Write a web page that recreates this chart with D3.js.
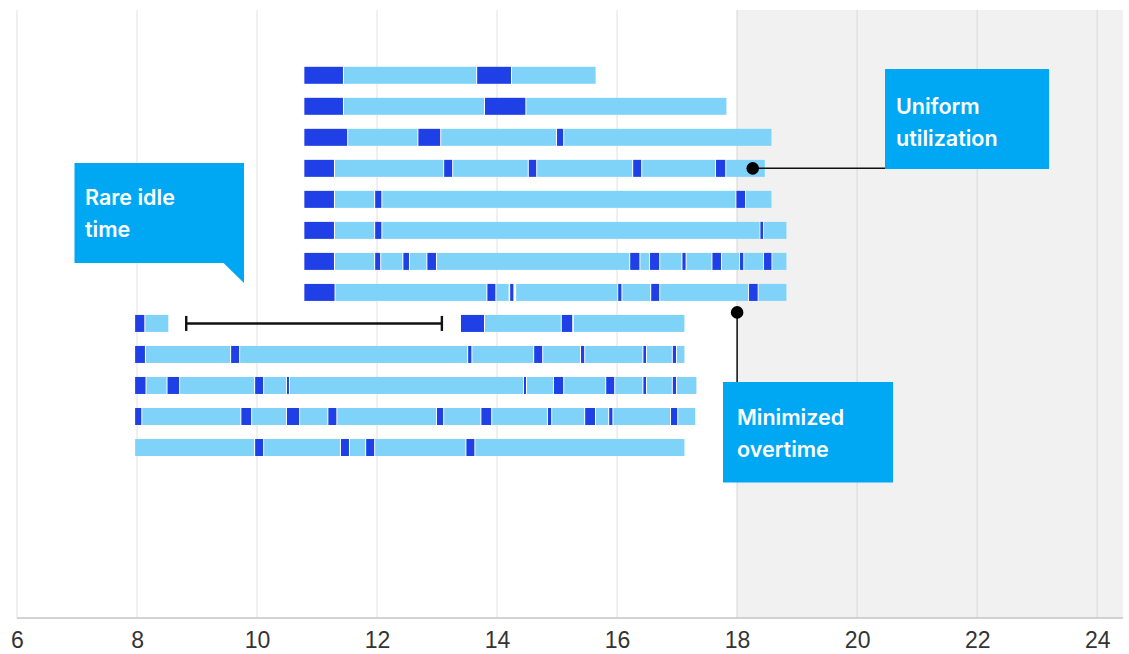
<!DOCTYPE html>
<html>
<head>
<meta charset="utf-8">
<script src="https://cdn.jsdelivr.net/npm/d3@7"></script>
<style>
  html, body { margin: 0; padding: 0; background: #ffffff; }
  svg { display: block; }
</style>
</head>
<body>
<div id="chart"></div>
<script>
// ---------------- DATA ----------------
// Hours of the day on the x axis
const tickValues = [6, 8, 10, 12, 14, 16, 18, 20, 22, 24];
const xDomain = [6, 24.43];
const overtimeStart = 18;

// Each row: list of [kind, start, end]; kind "t" = dark segment, "w" = light segment
const row1  = [["t",10.78,11.44],["w",11.44,13.66],["t",13.66,14.24],["w",14.24,15.65]];
const row2  = [["t",10.78,11.44],["w",11.44,13.79],["t",13.79,14.48],["w",14.48,17.83]];
const row3  = [["t",10.78,11.51],["w",11.51,12.68],["t",12.68,13.06],["w",13.06,14.99],["t",14.99,15.11],["w",15.11,18.58]];
const row4  = [["t",10.78,11.29],["w",11.29,13.11],["t",13.11,13.26],["w",13.26,14.52],["t",14.52,14.66],["w",14.66,16.26],["t",16.26,16.41],["w",16.41,17.64],["t",17.64,17.81],["w",17.81,18.47]];
const row5  = [["t",10.78,11.29],["w",11.29,11.96],["t",11.96,12.08],["w",12.08,17.98],["t",17.98,18.14],["w",18.14,18.58]];
const row6  = [["t",10.78,11.29],["w",11.29,11.96],["t",11.96,12.08],["w",12.08,18.38],["t",18.38,18.44],["w",18.44,18.83]];
const row7  = [["t",10.78,11.29],["w",11.29,11.96],["t",11.96,12.06],["w",12.06,12.43],["t",12.43,12.54],["w",12.54,12.83],["t",12.83,12.99],["w",12.99,16.21],["t",16.21,16.38],["w",16.38,16.54],["t",16.54,16.71],["w",16.71,17.08],["t",17.08,17.15],["w",17.15,17.58],["t",17.58,17.74],["w",17.74,18.04],["t",18.04,18.11],["w",18.11,18.44],["t",18.44,18.58],["w",18.58,18.83]];
const row8  = [["t",10.78,11.30],["w",11.30,13.83],["t",13.83,13.98],["w",13.98,14.20],["t",14.21,14.28],["w",14.31,16.01],["t",16.01,16.08],["w",16.08,16.56],["t",16.56,16.71],["w",16.71,18.19],["t",18.19,18.35],["w",18.35,18.83]];
const row9  = [["t",7.96,8.13],["w",8.13,8.53],["t",13.39,13.79],["w",13.79,15.07],["t",15.07,15.26],["w",15.27,17.13]];
const row10 = [["t",7.96,8.14],["w",8.14,9.56],["t",9.56,9.71],["w",9.71,13.51],["t",13.51,13.58],["w",13.58,14.61],["t",14.61,14.76],["w",14.76,15.39],["t",15.39,15.46],["w",15.46,16.43],["t",16.43,16.49],["w",16.49,16.92],["t",16.92,16.99],["w",16.99,17.13]];
const row11 = [["t",7.96,8.15],["w",8.15,8.50],["t",8.50,8.71],["w",8.71,9.96],["t",9.96,10.11],["w",10.11,10.49],["t",10.49,10.54],["w",10.54,14.44],["t",14.44,14.49],["w",14.49,14.94],["t",14.94,15.11],["w",15.11,15.81],["t",15.81,15.96],["w",15.96,16.43],["t",16.43,16.49],["w",16.49,16.92],["t",16.92,16.99],["w",16.99,17.33]];
const row12 = [["t",7.96,8.08],["w",8.08,9.73],["t",9.73,9.91],["w",9.91,10.49],["t",10.49,10.71],["w",10.71,11.18],["t",11.18,11.33],["w",11.33,12.99],["t",12.99,13.11],["w",13.11,13.73],["t",13.73,13.91],["w",13.91,14.84],["t",14.84,14.91],["w",14.91,15.46],["t",15.46,15.64],["w",15.64,15.86],["t",15.86,15.93],["w",15.93,16.89],["t",16.89,17.01],["w",17.01,17.31]];
const row13 = [["w",7.96,9.96],["t",9.96,10.11],["w",10.11,11.39],["t",11.39,11.54],["w",11.54,11.81],["t",11.81,11.96],["w",11.96,13.48],["t",13.48,13.63],["w",13.63,17.13]];
const rows = [row1, row2, row3, row4, row5, row6, row7, row8, row9, row10, row11, row12, row13];

// idle time interval (row 9)
const idleRow = 8;
const idleSpan = [8.82, 13.08];

// annotations
const annotationTexts = [["Rare idle", "time"], ["Uniform", "utilization"], ["Minimized", "overtime"]];
// anchor points: [hour, row index]
const uniformAnchor = [18.26, 3];
const overtimeAnchor = [18.0, 7];

// ---------------- CHART ----------------
const W = 1129, H = 654;
const COL_DARK = "#1f40e6", COL_LIGHT = "#80d3f8", COL_BOX = "#00a8f3";
const axisY = 618, topY = 10;
const barH = 17;

const svg = d3.select("#chart").append("svg").attr("width", W).attr("height", H);

const x = d3.scaleLinear().domain(xDomain).range([17, 1123]);
const y = d3.scalePoint().domain(d3.range(rows.length)).range([75.3, 447.5]);

// overtime shading
svg.append("rect")
  .attr("x", x(overtimeStart)).attr("y", topY)
  .attr("width", x(xDomain[1]) - x(overtimeStart)).attr("height", axisY - topY)
  .attr("fill", "#f1f1f1");

// grid lines
svg.append("g").selectAll("line").data(tickValues).join("line")
  .attr("x1", d => x(d)).attr("x2", d => x(d))
  .attr("y1", topY).attr("y2", axisY)
  .attr("stroke", d => d >= overtimeStart ? "#e2e2e2" : "#ececec")
  .attr("stroke-width", 1.6);

// axis
const axis = d3.axisBottom(x).tickValues(tickValues).tickSize(0).tickPadding(14).tickFormat(d3.format("d"));
const ag = svg.append("g").attr("transform", `translate(0,${axisY})`).call(axis);
ag.select(".domain").remove();
ag.selectAll("text")
  .attr("font-family", "'Liberation Sans', Arial, sans-serif")
  .attr("font-size", 23)
  .attr("fill", "#333333");
svg.append("line")
  .attr("x1", x(xDomain[0])).attr("x2", x(xDomain[1]))
  .attr("y1", axisY).attr("y2", axisY)
  .attr("stroke", "#c4c4c4").attr("stroke-width", 1.5);

// bars
const barG = svg.append("g");
rows.forEach((segs, i) => {
  barG.append("g").selectAll("rect").data(segs).join("rect")
    .attr("x", d => x(d[1]) + 0.5)
    .attr("width", d => Math.max(0.5, x(d[2]) - x(d[1]) - 1))
    .attr("y", y(i) - barH / 2)
    .attr("height", barH)
    .attr("fill", d => d[0] === "t" ? COL_DARK : COL_LIGHT);
});

// idle interval
const iy = y(idleRow);
const ig = svg.append("g").attr("stroke", "#111").attr("stroke-width", 2.4);
ig.append("line").attr("x1", x(idleSpan[0])).attr("x2", x(idleSpan[1])).attr("y1", iy).attr("y2", iy);
idleSpan.forEach(v => {
  ig.append("line").attr("x1", x(v)).attr("x2", x(v)).attr("y1", iy - 7.5).attr("y2", iy + 7.5);
});

// annotation boxes
function box(x0, y0, w, h, lines, tx, ty1) {
  const g = svg.append("g");
  g.append("rect").attr("x", x0).attr("y", y0).attr("width", w).attr("height", h).attr("fill", COL_BOX);
  const t = g.append("text")
    .attr("font-family", "Inter, 'Open Sans', sans-serif")
    .attr("font-weight", 600)
    .attr("font-size", 21.5)
    .attr("fill", "#ffffff");
  lines.forEach((l, k) => {
    t.append("tspan").attr("x", tx).attr("y", ty1 + k * 32).text(l);
  });
  return g;
}

// Rare idle time (speech bubble)
const rg = box(74.5, 163, 169.5, 100, annotationTexts[0], 85, 205);
rg.append("path").attr("d", "M223,262.5 L244,283 L244,262.5 Z").attr("fill", COL_BOX);

// Uniform utilization
const ux = x(uniformAnchor[0]), uy = y(uniformAnchor[1]);
svg.append("line").attr("x1", ux).attr("x2", 885).attr("y1", uy).attr("y2", uy)
  .attr("stroke", "#111").attr("stroke-width", 1.5);
svg.append("circle").attr("cx", ux).attr("cy", uy).attr("r", 6.3).attr("fill", "#000");
box(885, 69, 164, 100, annotationTexts[1], 896, 114);

// Minimized overtime
const ox = x(overtimeAnchor[0]), oy = y(overtimeAnchor[1]) + 20;
svg.append("line").attr("x1", ox).attr("x2", ox).attr("y1", oy).attr("y2", 382)
  .attr("stroke", "#111").attr("stroke-width", 1.5);
svg.append("circle").attr("cx", ox).attr("cy", oy).attr("r", 6.3).attr("fill", "#000");
box(723, 382, 170, 100.5, annotationTexts[2], 737, 425);
</script>
</body>
</html>
